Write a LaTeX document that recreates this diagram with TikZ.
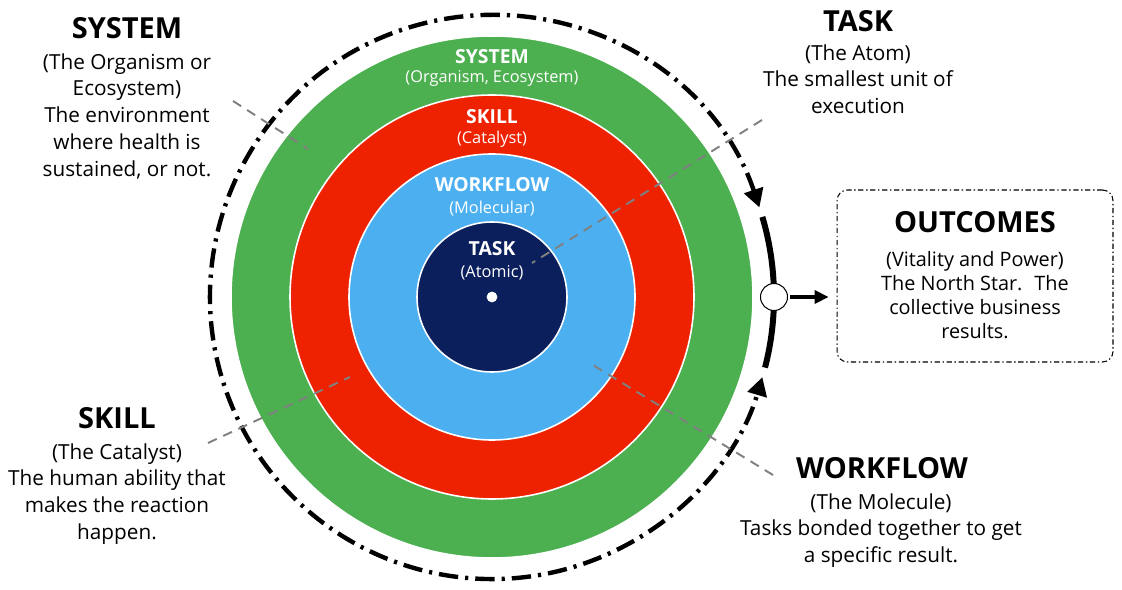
\documentclass[tikz,border=0pt]{standalone}
\usepackage{fontspec}
\setmainfont{Open Sans}
\usetikzlibrary{arrows.meta}

\definecolor{sysgreen}{RGB}{76,175,80}
\definecolor{skillred}{RGB}{238,34,0}
\definecolor{flowblue}{RGB}{76,176,240}
\definecolor{tasknavy}{RGB}{10,31,92}
\definecolor{leadgray}{RGB}{128,128,128}

\begin{document}
\begin{tikzpicture}[x=0.02cm, y=0.02cm,
  ring/.style={draw=white, line width=0.9pt},
  ringtitle/.style={text=white, inner sep=0pt, font=\bfseries\fontsize{11}{13}\selectfont},
  ringsub/.style={text=white, inner sep=0pt, font=\fontsize{9.3}{11}\selectfont},
  headlabel/.style={inner sep=0pt, font=\bfseries\fontsize{16.5}{19}\selectfont},
  bodylabel/.style={inner sep=0pt, anchor=north, align=center, font=\fontsize{11.8}{15.3}\selectfont},
  leader/.style={draw=leadgray, line width=1.1pt, dash pattern=on 5.5pt off 4pt},
  loopline/.style={line width=2.5pt, dash pattern=on 11pt off 4pt on 1.8pt off 4pt},
  >={Triangle[length=10.5pt, width=11pt]}
]

\useasboundingbox (0,0) rectangle (1122,589);
\coordinate (c) at (492,292);

% Draw the rings from the outside in
\filldraw[ring, fill=sysgreen] (c) circle (261);
\filldraw[ring, fill=skillred] (c) circle (202);
\filldraw[ring, fill=flowblue] (c) circle (143);
\filldraw[ring, fill=tasknavy] (c) circle (75);
\filldraw[white] (c) circle (5);

% Ring labels
\node[ringtitle] (systitle) at (492,532) {SYSTEM};
\node[ringsub] (syssub) at (492,511) {(Organism, Ecosystem)};
\node[ringtitle] (skilltitle) at (492,472) {SKILL};
\node[ringsub] (skillsub) at (492,450) {(Catalyst)};
\node[ringtitle] (flowtitle) at (492,404) {WORKFLOW};
\node[ringsub] (flowsub) at (492,380) {(Molecular)};
\node[ringtitle] (tasktitle) at (492,340) {TASK};
\node[ringsub] (tasksub) at (492,316) {(Atomic)};

% Feedback loop round the rings
\draw[loopline, <->] (c) ++(18.5:282) arc[start angle=18.5, end angle=343.5, radius=282];
\draw[line width=3.4pt] (c) ++(16.5:282) arc[start angle=16.5, end angle=-14.5, radius=282];
\node[draw, fill=white, circle, line width=0.6pt, minimum size=0.54cm, inner sep=0pt] (hub) at (774,292) {};

% Outcomes box
\node[draw, rounded corners=6pt, line width=0.6pt, dash pattern=on 3pt off 1.5pt on 0.8pt off 1.5pt,
  minimum width=5.52cm, minimum height=3.44cm] (outcomes) at (975,313) {};
\node[headlabel] (outhead) at (975,367) {OUTCOMES};
\node[bodylabel, font=\fontsize{11.3}{13.6}\selectfont] (outbody) at (975,338)
  {(Vitality and Power)\\The North Star.~ The\\collective business\\results.};
\draw[line width=1.8pt, -{Triangle[length=8pt, width=7.5pt]}, shorten <=1pt, shorten >=4.5pt]
  (hub) -- (hub -| outcomes.west);

% Outer labels
\node[headlabel] (syshead) at (127,561) {SYSTEM};
\node[bodylabel] (sysbody) at (127,536)
  {(The Organism or\\Ecosystem)\\The environment\\where health is\\sustained, or not.};
\node[headlabel] (taskhead) at (858,568) {TASK};
\node[bodylabel] (taskbody) at (858,545)
  {(The Atom)\\The smallest unit of\\execution};
\node[headlabel] (skillhead) at (117,171) {SKILL};
\node[bodylabel] (skillbody) at (117,146)
  {(The Catalyst)\\The human ability that\\makes the reaction\\happen.};
\node[headlabel] (flowhead) at (882,121) {WORKFLOW};
\node[bodylabel] (flowbody) at (881,96)
  {(The Molecule)\\Tasks bonded together to get\\a specific result.};

% Leader lines into the rings
\coordinate (sysA) at (233,488);
\coordinate (sysB) at (308,440);
\coordinate (taskA) at (762,469);
\coordinate (taskB) at (532,326);
\coordinate (skillA) at (208,146);
\coordinate (skillB) at (350,212);
\coordinate (flowA) at (773,114);
\coordinate (flowB) at (588,227);
\draw[leader] (sysA) -- (sysB);
\draw[leader] (taskA) -- (taskB);
\draw[leader] (skillA) -- (skillB);
\draw[leader] (flowA) -- (flowB);

\end{tikzpicture}
\end{document}
